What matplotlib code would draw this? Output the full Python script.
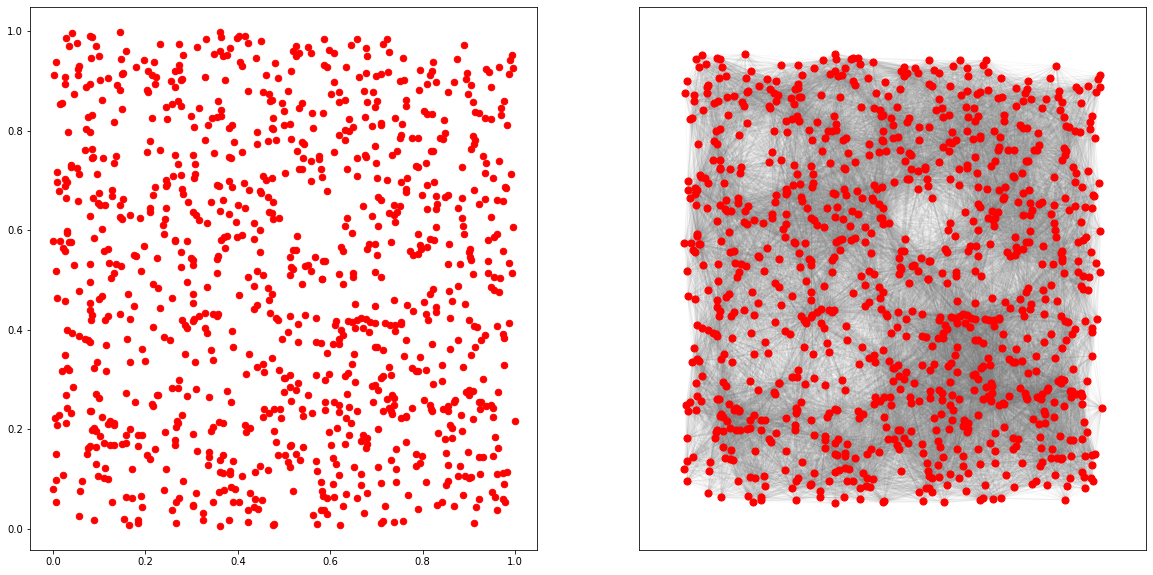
import numpy as np
import matplotlib
matplotlib.use("Agg")
import matplotlib.pyplot as plt
from matplotlib.collections import LineCollection

upper_left = [(.042,.995),(.029,.985),(.053,.975),(.035,.969),(.079,.989),(.085,.987),(.092,.969),(.146,.997),(.100,.949),(.083,.945),(.159,.959),(.148,.943),(.232,.973),(.273,.973),(.282,.951),(.312,.967),(.332,.983),(.362,.997),(.364,.987),(.399,.985),(.403,.989),(.416,.989),(.421,.975),(.451,.979),(.384,.965),(.362,.959),(.349,.953),(.369,.949),(.377,.951),(.440,.945),(.405,.937),(.408,.929),(.481,.935),(.007,.937),(.057,.929),(.055,.923),(.198,.941),(.219,.937),(.180,.927),(.206,.919),(.215,.911),(.224,.907),(.221,.894),(.273,.931),(.273,.921),(.265,.919),(.003,.911),(.025,.907),(.055,.911),(.025,.894),(.102,.901),(.120,.905),(.152,.915),(.150,.913),(.328,.907),(.373,.901),(.460,.911),(.488,.905),(.280,.903),(.276,.901),(.256,.899),(.263,.887),(.081,.894),(.072,.888),(.139,.892),(.144,.882),(.204,.882),(.206,.878),(.046,.874),(.423,.880),(.455,.878),(.468,.874),(.475,.862),(.470,.860),(.105,.862),(.019,.856),(.015,.854),(.271,.860),(.258,.854),(.245,.848),(.276,.850),(.358,.860),(.317,.846),(.364,.842),(.496,.856),(.499,.840),(.150,.844),(.085,.832),(.076,.828),(.299,.830),(.215,.826),(.247,.824),(.364,.830),(.354,.828),(.345,.826),(.477,.826),(.131,.818),(.336,.812),(.306,.808),(.388,.812),(.380,.806),(.473,.806),(.477,.804),(.501,.812),(.072,.804),(.079,.798),(.033,.798),(.442,.798),(.211,.780),(.330,.782),(.392,.778),(.466,.780),(.483,.782),(.442,.774),(.070,.762),(.085,.764),(.204,.758),(.232,.762),(.263,.752),(.304,.750),(.349,.756),(.410,.758),(.109,.744),(.087,.746),(.085,.744),(.137,.748),(.382,.746),(.386,.744),(.133,.734),(.271,.732),(.308,.732),(.038,.730),(.040,.726),(.051,.724),(.009,.716),(.057,.712),(.096,.712),(.260,.708),(.278,.710),(.308,.712),(.306,.704),(.455,.708),(.462,.700),(.473,.704),(.503,.714),(.245,.700),(.382,.698),(.009,.696),(.027,.702),(.031,.696),(.027,.688),(.247,.692),(.245,.688),(.221,.686),(.356,.690),(.360,.688),(.388,.686),(.414,.694),(.014,.678),(.280,.682),(.282,.672),(.128,.680),(.100,.674),(.425,.680),(.449,.678),(.451,.674),(.217,.670),(.128,.668),(.029,.664),(.087,.664),(.055,.658),(.152,.662),(.293,.656),(.343,.656),(.367,.660),(.466,.666),(.477,.656),(.098,.654),(.102,.650),(.113,.650),(.146,.650),(.211,.644),(.211,.636),(.245,.644),(.401,.650),(.416,.644),(.362,.638),(.380,.632),(.468,.636),(.473,.634),(.079,.628),(.144,.626),(.150,.622),(.167,.630),(.189,.624),(.304,.636),(.310,.630),(.317,.620),(.334,.615),(.243,.622),(.237,.611),(.397,.617),(.434,.615),(.477,.622),(.490,.624),(.031,.599),(.031,.595),(.107,.603),(.447,.601),(.241,.593),(.089,.585),(.001,.579),(.016,.579),(.035,.577),(.038,.577),(.263,.581),(.265,.579),(.289,.579),(.377,.589),(.371,.587),(.364,.581),(.399,.587),(.408,.591),(.434,.583),(.198,.569),(.022,.565),(.027,.559),(.120,.563),(.111,.559),(.373,.565),(.276,.557),(.447,.557),(.176,.551),(.180,.549),(.226,.545),(.358,.549),(.354,.543),(.299,.545),(.304,.541),(.046,.531),(.081,.533),(.122,.535),(.137,.533),(.148,.529),(.278,.527),(.304,.531),(.007,.519),(.191,.519),(.442,.519),(.131,.515),(.455,.511),(.354,.515),(.423,.507),(.126,.505)]

upper_right = [(.587,.983),(.659,.983),(.722,.983),(.715,.973),(.644,.971),(.678,.965),(.525,.969),(.553,.967),(.520,.959),(.533,.955),(.527,.949),(.559,.955),(.598,.961),(.609,.955),(.680,.949),(.728,.957),(.758,.945),(.890,.971),(.994,.951),(.990,.941),(.875,.943),(.823,.937),(.516,.919),(.587,.931),(.592,.927),(.635,.927),(.795,.921),(.821,.919),(.815,.911),(.938,.923),(.944,.917),(.966,.927),(.996,.925),(.986,.913),(.897,.915),(.895,.903),(.905,.892),(.949,.888),(.663,.907),(.678,.915),(.700,.909),(.709,.913),(.726,.917),(.609,.897),(.750,.899),(.760,.901),(.810,.894),(.830,.897),(.867,.897),(.509,.880),(.602,.874),(.618,.878),(.674,.880),(.693,.878),(.793,.882),(.856,.878),(.899,.874),(.620,.858),(.633,.862),(.680,.858),(.702,.860),(.765,.862),(.765,.850),(.696,.848),(.910,.858),(.977,.860),(.538,.856),(.533,.846),(.970,.846),(.561,.836),(.585,.836),(.804,.840),(.810,.834),(.821,.834),(.914,.838),(.921,.836),(.934,.826),(.947,.824),(.970,.832),(.641,.824),(.676,.828),(.741,.826),(.847,.822),(.756,.814),(.512,.814),(.563,.806),(.691,.810),(.709,.816),(.709,.812),(.650,.808),(.641,.800),(.633,.802),(.983,.812),(.620,.792),(.633,.782),(.849,.796),(.910,.790),(.914,.782),(.754,.792),(.750,.786),(.776,.786),(.789,.786),(.838,.786),(.845,.784),(.516,.784),(.538,.778),(.544,.774),(.696,.770),(.912,.774),(.905,.764),(.529,.760),(.609,.758),(.745,.760),(.734,.750),(.819,.760),(.823,.760),(.676,.752),(.678,.746),(.931,.748),(.542,.744),(.559,.738),(.576,.748),(.576,.742),(.657,.744),(.700,.734),(.938,.734),(.966,.738),(.808,.734),(.786,.728),(.789,.726),(.533,.722),(.538,.722),(.581,.722),(.637,.722),(.886,.726),(.936,.714),(.992,.712),(.657,.708),(.583,.706),(.702,.704),(.724,.700),(.767,.704),(.754,.696),(.953,.704),(.559,.698),(.810,.690),(.825,.696),(.594,.678),(.765,.682),(.763,.676),(.912,.680),(.979,.686),(.981,.684),(.799,.670),(.828,.668),(.856,.670),(.849,.666),(.886,.664),(.704,.666),(.709,.660),(.936,.662),(.960,.660),(.975,.658),(.832,.652),(.921,.652),(.672,.648),(.737,.650),(.752,.648),(.810,.642),(.828,.642),(.877,.644),(.745,.636),(.728,.634),(.739,.630),(.691,.628),(.637,.624),(.949,.626),(.886,.624),(.741,.617),(.631,.609),(.704,.609),(.828,.607),(.888,.609),(.996,.607),(.648,.595),(.791,.593),(.890,.593),(.962,.593),(.955,.587),(.942,.581),(.529,.589),(.732,.577),(.817,.583),(.825,.581),(.858,.573),(.683,.573),(.698,.573),(.680,.563),(.624,.567),(.628,.559),(.702,.551),(.795,.571),(.810,.567),(.797,.563),(.773,.559),(.780,.551),(.791,.553),(.903,.563),(.901,.557),(.903,.547),(.905,.541),(.973,.559),(.520,.561),(.525,.561),(.514,.547),(.568,.547),(.585,.539),(.589,.539),(.942,.539),(.986,.535),(.856,.533),(.882,.533),(.516,.527),(.520,.523),(.551,.531),(.546,.529),(.559,.519),(.514,.511),(.618,.513),(.650,.515),(.650,.507),(.696,.517),(.711,.507),(.908,.513),(.942,.515),(.994,.515),(.955,.507),(.968,.505),(.583,.501)]

lower_left = [(.081,.496),(.217,.491),(.228,.483),(.291,.496),(.334,.485),(.434,.487),(.466,.483),(.475,.471),(.468,.459),(.057,.477),(.009,.463),(.027,.457),(.107,.467),(.100,.461),(.163,.471),(.258,.463),(.304,.471),(.304,.453),(.403,.469),(.079,.453),(.176,.447),(.232,.443),(.442,.449),(.434,.441),(.079,.439),(.085,.429),(.144,.431),(.120,.427),(.113,.419),(.083,.419),(.167,.421),(.470,.433),(.483,.423),(.486,.419),(.328,.433),(.317,.427),(.306,.421),(.304,.417),(.280,.419),(.286,.409),(.291,.403),(.347,.431),(.358,.431),(.354,.427),(.217,.405),(.031,.399),(.042,.393),(.328,.403),(.334,.393),(.388,.397),(.057,.387),(.070,.381),(.079,.375),(.076,.379),(.161,.381),(.241,.385),(.254,.379),(.496,.381),(.115,.369),(.193,.361),(.390,.365),(.341,.359),(.025,.349),(.286,.351),(.425,.351),(.475,.343),(.347,.339),(.096,.335),(.089,.324),(.167,.335),(.200,.337),(.308,.335),(.455,.332),(.442,.326),(.031,.324),(.020,.318),(.035,.320),(.115,.318),(.457,.316),(.490,.320),(.418,.312),(.499,.304),(.273,.300),(.044,.286),(.258,.284),(.271,.284),(.310,.282),(.377,.278),(.029,.270),(.094,.272),(.100,.264),(.157,.274),(.226,.270),(.228,.270),(.289,.268),(.338,.266),(.499,.276),(.178,.256),(.386,.256),(.215,.250),(.217,.246),(.031,.242),(.014,.228),(.005,.222),(.040,.232),(.079,.236),(.083,.236),(.280,.228),(.457,.240),(.479,.240),(.492,.240),(.455,.224),(.468,.232),(.494,.222),(.107,.224),(.009,.208),(.029,.212),(.124,.216),(.131,.212),(.120,.210),(.131,.208),(.269,.216),(.267,.204),(.271,.212),(.360,.214),(.367,.212),(.347,.204),(.343,.196),(.416,.208),(.427,.202),(.418,.194),(.167,.200),(.089,.202),(.085,.198),(.094,.196),(.243,.194),(.479,.196),(.157,.188),(.183,.188),(.193,.188),(.102,.186),(.304,.190),(.483,.174),(.265,.178),(.265,.168),(.111,.172),(.124,.168),(.133,.168),(.150,.170),(.157,.172),(.185,.166),(.079,.166),(.076,.162),(.094,.164),(.074,.150),(.221,.160),(.007,.150),(.312,.156),(.338,.154),(.338,.144),(.369,.148),(.362,.138),(.488,.148),(.204,.148),(.209,.140),(.390,.136),(.094,.130),(.336,.128),(.113,.122),(.170,.120),(.245,.120),(.447,.126),(.362,.114),(.367,.112),(.384,.116),(.384,.110),(.438,.114),(.466,.118),(.022,.108),(.007,.098),(.063,.096),(.098,.106),(.111,.102),(.118,.100),(.410,.106),(.282,.096),(.001,.080),(.059,.076),(.241,.078),(.386,.084),(.395,.080),(.371,.078),(.360,.074),(.310,.072),(.427,.072),(.157,.064),(.170,.062),(.191,.066),(.273,.062),(.267,.054),(.128,.055),(.007,.054),(.347,.054),(.390,.054),(.403,.054),(.438,.060),(.453,.058),(.193,.044),(.304,.048),(.302,.046),(.258,.038),(.325,.033),(.421,.038),(.436,.044),(.444,.040),(.057,.027),(.089,.019),(.154,.021),(.185,.019),(.183,.013),(.325,.019),(.382,.019),(.421,.015),(.479,.011),(.477,.007),(.165,.009),(.267,.013),(.362,.005)]

lower_right = [(.538,.491),(.583,.501),(.628,.491),(.823,.481),(.817,.471),(.877,.487),(.858,.477),(.949,.485),(.955,.479),(.966,.475),(.654,.451),(.696,.447),(.737,.459),(.767,.449),(.804,.455),(.864,.457),(.892,.451),(.780,.437),(.830,.445),(.828,.435),(.808,.431),(.812,.419),(.512,.427),(.546,.429),(.570,.423),(.531,.411),(.860,.423),(.901,.419),(.912,.407),(.918,.405),(.960,.407),(.988,.413),(.509,.395),(.613,.417),(.611,.409),(.639,.417),(.648,.415),(.659,.419),(.667,.423),(.678,.421),(.687,.415),(.696,.413),(.654,.403),(.672,.403),(.624,.399),(.685,.395),(.719,.413),(.730,.409),(.741,.409),(.754,.415),(.754,.411),(.741,.397),(.975,.391),(.977,.383),(.934,.389),(.628,.389),(.620,.381),(.763,.379),(.927,.379),(.877,.379),(.531,.375),(.570,.375),(.579,.373),(.607,.371),(.620,.371),(.821,.371),(.914,.365),(.696,.365),(.702,.365),(.715,.359),(.860,.361),(.592,.353),(.652,.351),(.760,.347),(.795,.345),(.905,.349),(.648,.332),(.728,.326),(.778,.324),(.786,.318),(.791,.318),(.808,.320),(.841,.330),(.888,.326),(.977,.330),(.639,.314),(.631,.308),(.598,.312),(.570,.310),(.512,.310),(.503,.304),(.732,.310),(.715,.308),(.711,.304),(.589,.300),(.654,.296),(.931,.302),(.531,.294),(.823,.292),(.841,.298),(.691,.288),(.696,.290),(.704,.280),(.514,.286),(.527,.280),(.551,.270),(.637,.272),(.895,.276),(.901,.280),(.910,.278),(.901,.270),(.964,.276),(.734,.270),(.737,.264),(.722,.262),(.516,.258),(.693,.256),(.804,.260),(.871,.260),(.869,.256),(.589,.254),(.609,.256),(.618,.248),(.641,.244),(.923,.254),(.927,.254),(.938,.246),(.949,.248),(.953,.242),(.925,.240),(.815,.248),(.819,.240),(.821,.236),(.737,.248),(.728,.242),(.715,.236),(.732,.236),(.734,.230),(.778,.242),(.845,.240),(.856,.246),(.854,.236),(.540,.240),(.589,.238),(.618,.234),(.657,.236),(.561,.232),(.542,.226),(.884,.228),(.908,.220),(.953,.224),(.999,.216),(.635,.222),(.644,.212),(.754,.222),(.763,.226),(.765,.224),(.860,.208),(.864,.202),(.615,.202),(.704,.200),(.886,.196),(.598,.194),(.641,.188),(.834,.192),(.670,.188),(.680,.182),(.667,.176),(.680,.170),(.678,.162),(.957,.184),(.849,.180),(.864,.182),(.765,.174),(.602,.168),(.633,.170),(.512,.166),(.516,.168),(.542,.164),(.743,.160),(.964,.162),(.786,.150),(.799,.146),(.851,.152),(.899,.154),(.923,.144),(.931,.144),(.953,.146),(.503,.148),(.525,.150),(.509,.134),(.535,.138),(.607,.142),(.613,.130),(.570,.136),(.732,.138),(.795,.132),(.786,.126),(.514,.124),(.652,.124),(.704,.124),(.743,.120),(.854,.128),(.880,.126),(.572,.116),(.667,.110),(.620,.108),(.925,.110),(.960,.110),(.975,.112),(.983,.114),(.877,.106),(.892,.106),(.901,.102),(.905,.104),(.581,.094),(.607,.090),(.667,.088),(.709,.092),(.743,.094),(.808,.094),(.856,.096),(.851,.088),(.977,.090),(.520,.076),(.583,.076),(.585,.066),(.592,.062),(.609,.064),(.635,.070),(.657,.062),(.680,.072),(.769,.068),(.888,.068),(.951,.074),(.957,.064),(.973,.060),(.979,.054),(.923,.060),(.841,.054),(.832,.048),(.869,.046),(.916,.044),(.628,.046),(.719,.046),(.789,.041),(.960,.038),(.579,.038),(.587,.038),(.592,.031),(.563,.029),(.674,.033),(.572,.011),(.622,.007),(.709,.013),(.715,.017),(.739,.015),(.758,.017),(.912,.013)]

link_radius = 0.2
tick_values = [0.0, 0.2, 0.4, 0.6, 0.8, 1.0]

points = np.array(upper_left + upper_right + lower_left + lower_right)
x, y = points[:, 0], points[:, 1]

W, H = 1153, 575
fig = plt.figure(figsize=(W / 72, H / 72), dpi=72, facecolor="white")


def place(x0, x1, top, bottom):
    return fig.add_axes([x0 / W, (H - bottom) / H, (x1 - x0) / W, (bottom - top) / H])


left = place(30, 537, 7, 550)
left.scatter(x, y, s=42, c="red", zorder=2)
left.set_xlim(-0.0498, 1.0476)
left.set_ylim(-0.0422, 1.0482)
left.set_xticks(tick_values)
left.set_yticks(tick_values)
left.tick_params(labelsize=10)

right = place(639, 1146, 7, 550)
i, j = np.triu_indices(len(points), k=1)
near = np.hypot(x[i] - x[j], y[i] - y[j]) <= link_radius
segments = np.stack([points[i[near]], points[j[near]]], axis=1)
right.add_collection(LineCollection(segments, colors="gray", linewidths=1.0, alpha=0.06, zorder=1))
right.scatter(x, y, s=50, c="red", zorder=2)
right.set_xlim(-0.1077, 1.105)
right.set_ylim(-0.098, 1.1007)
right.set_xticks([])
right.set_yticks([])

fig.savefig("out.png", dpi=72, facecolor="white")
